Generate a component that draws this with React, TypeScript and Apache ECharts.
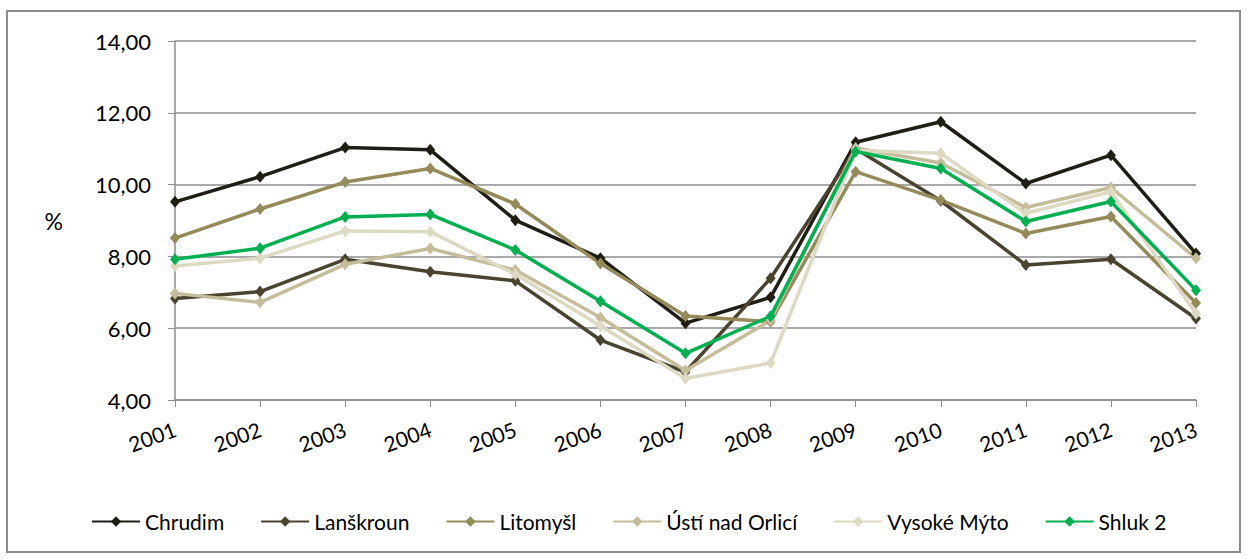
import React, { useEffect, useRef } from "react";
import * as echarts from "echarts";

const years = ["2001","2002","2003","2004","2005","2006","2007","2008","2009","2010","2011","2012","2013"];
const yTicks = { min: 4, max: 14, interval: 2 };

const chrudim = [9.52, 10.22, 11.03, 10.97, 9.01, 7.95, 6.14, 6.86, 11.18, 11.75, 10.03, 10.82, 8.08];
const lanskroun = [6.83, 7.02, 7.92, 7.57, 7.32, 5.67, 4.78, 7.39, 11.0, 9.55, 7.76, 7.92, 6.27];
const litomysl = [8.51, 9.32, 10.07, 10.45, 9.46, 7.8, 6.34, 6.18, 10.36, 9.57, 8.64, 9.11, 6.7];
const usti = [6.97, 6.72, 7.78, 8.22, 7.62, 6.3, 4.82, 6.22, 11.02, 10.6, 9.36, 9.92, 7.95];
const vysoke = [7.73, 7.95, 8.71, 8.69, 7.5, 6.07, 4.6, 5.03, 10.95, 10.87, 9.2, 9.8, 6.41];
const shluk = [7.92, 8.23, 9.1, 9.17, 8.18, 6.75, 5.3, 6.33, 10.92, 10.45, 8.97, 9.53, 7.06];

const seriesDefs = [
  { name: "Chrudim", data: chrudim, color: "#1f1d14" },
  { name: "Lanškroun", data: lanskroun, color: "#4a4330" },
  { name: "Litomyšl", data: litomysl, color: "#958b5a" },
  { name: "Ústí nad Orlicí", data: usti, color: "#c5bd99" },
  { name: "Vysoké Mýto", data: vysoke, color: "#ddd9c3" },
  { name: "Shluk 2", data: shluk, color: "#00b050" },
];

const FONT = "Lato, 'Liberation Sans', sans-serif";

export default function App() {
  const ref = useRef<HTMLDivElement>(null);
  useEffect(() => {
    if (!ref.current) return;
    const chart = echarts.init(ref.current, undefined, { renderer: "svg" });
    chart.setOption({
      animation: false,
      backgroundColor: "#ffffff",
      textStyle: { fontFamily: FONT },
      grid: { left: 175, right: 51, top: 41, bottom: 159, containLabel: false },
      graphic: [
        {
          type: "rect",
          shape: { x: 7, y: 11, width: 1233, height: 541 },
          style: { fill: "none", stroke: "#8c8c8c", lineWidth: 2 },
          silent: true,
          z: -1,
        },
      ],
      legend: {
        bottom: 22,
        left: 86,
        itemWidth: 48,
        itemHeight: 13,
        itemGap: 36,
        textStyle: { fontSize: 21, color: "#000", fontFamily: FONT },
        data: seriesDefs.map((s) => s.name),
      },
      xAxis: {
        type: "category",
        data: years,
        boundaryGap: false,
        axisLine: { lineStyle: { color: "#8c8c8c", width: 1.5 } },
        axisTick: { show: true, length: 7, alignWithLabel: true, lineStyle: { color: "#8c8c8c" } },
        axisLabel: { rotate: 20, fontSize: 21, color: "#000", margin: 28, fontFamily: FONT },
        splitLine: { show: false },
      },
      yAxis: {
        type: "value",
        min: yTicks.min,
        max: yTicks.max,
        interval: yTicks.interval,
        name: "%",
        nameLocation: "middle",
        nameRotate: 0,
        nameGap: 112,
        nameTextStyle: { fontSize: 23, color: "#000", fontFamily: FONT },
        axisLine: { show: true, lineStyle: { color: "#8c8c8c", width: 1.5 } },
        axisTick: { show: true, length: 7, lineStyle: { color: "#8c8c8c" } },
        axisLabel: {
          fontSize: 22,
          color: "#000",
          margin: 24,
          fontFamily: FONT,
          formatter: (v: number) => v.toFixed(2).replace(".", ","),
        },
        splitLine: { show: true, lineStyle: { color: "#8c8c8c", width: 1.5 } },
      },
      series: seriesDefs.map((s) => ({
        name: s.name,
        type: "line",
        data: s.data,
        symbol: "diamond",
        symbolSize: [10, 12],
        showSymbol: true,
        itemStyle: { color: s.color },
        lineStyle: { color: s.color, width: 3.5 },
      })),
    });
    return () => chart.dispose();
  }, []);
  return <div ref={ref} style={{ position: "absolute", left: 0, top: 0, width: 1247, height: 559 }} />;
}
